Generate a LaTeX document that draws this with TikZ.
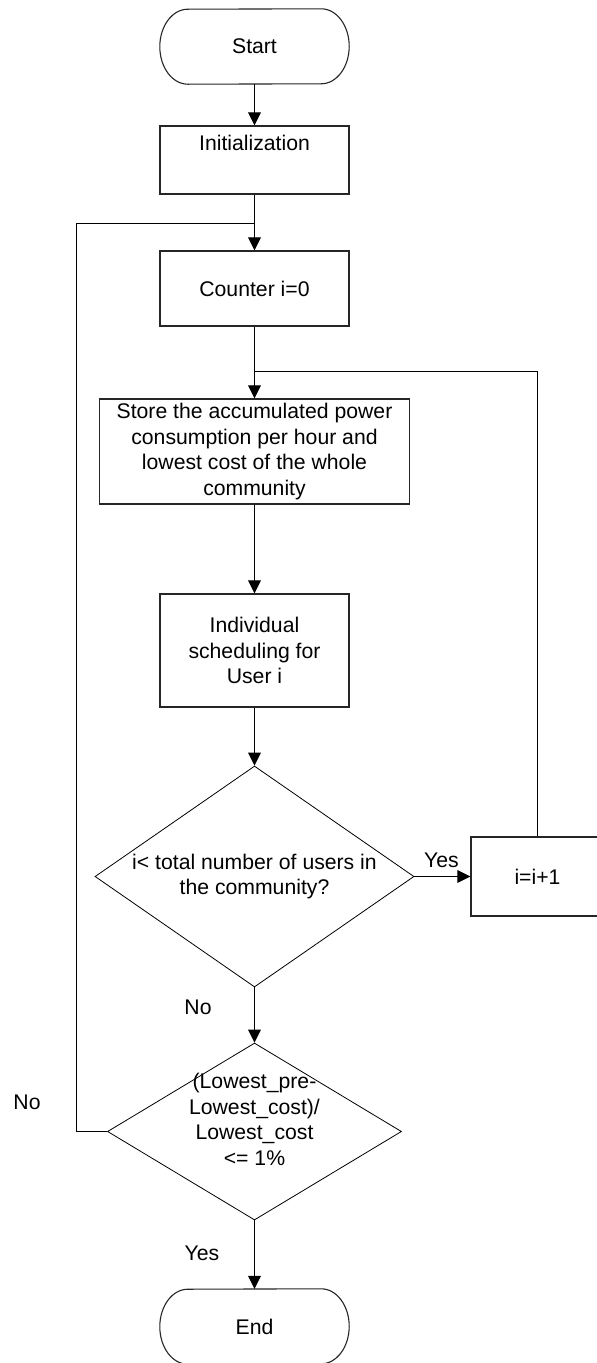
\documentclass[tikz,border=0pt]{standalone}
\usepackage{fontspec}
\setmainfont{Liberation Sans}
\usetikzlibrary{shapes.geometric,arrows.meta}
\begin{document}
\begin{tikzpicture}[x=1pt,y=-1pt,
  every node/.style={font=\fontsize{21.2}{25.7}\selectfont},
  procbox/.style={draw=black!85,line width=1.1pt,rectangle,inner sep=0pt,align=center},
  termbox/.style={rectangle,inner sep=0pt,minimum width=189pt,minimum height=75pt},
  termline/.style={draw=black!85,line width=1.1pt},
  decbox/.style={draw=black,line width=0.8pt,diamond,inner sep=0pt},
  lbl/.style={inner sep=0pt},
  conn/.style={draw=black,line width=1pt},
  arr/.style={conn,-{Triangle[length=13pt,width=12.7pt]}}
]
\clip (0,0) rectangle (597,1363);
\fill[white] (0,0) rectangle (597,1363);

% nodes
\node[termbox] (start) at (254.5,46.5) {Start};
\node[procbox,minimum width=189pt,minimum height=68pt] (init) at (254.5,160) {Initialization\\\strut};
\node[procbox,minimum width=189pt,minimum height=75pt] (counter) at (254.5,288.5) {Counter i=0};
\node[procbox,minimum width=310pt,minimum height=105pt] (store) at (254.5,451.5)
  {Store the accumulated power\\consumption per hour and\\lowest cost of the whole\\community};
\node[procbox,minimum width=189pt,minimum height=113pt] (indiv) at (254.5,650.5)
  {Individual\\scheduling for\\User i};
\node[decbox,minimum width=319pt,minimum height=221pt] (dec1) at (254.5,876.5) {};
\node[lbl,align=center] (dec1t) at (254.5,876.5) {i{<} total number of users in\\the community?};
\node[procbox,minimum width=133pt,minimum height=79pt] (inc) at (537.5,876.5) {i=i+1};
\node[decbox,minimum width=294pt,minimum height=177pt] (dec2) at (254.5,1131.5) {};
\node[lbl,align=center] (dec2t) at (254.5,1119.5) {(Lowest\_pre-\\Lowest\_cost)/\\Lowest\_cost\\{<}= 1\%};
\node[termbox] (end) at (254.5,1326.5) {End};

% terminal outlines
\draw[termline] ([xshift=-28pt]start.north east) arc[start angle=90,end angle=-90,x radius=28pt,y radius=37.5pt]
  -- ([xshift=28pt]start.south west) arc[start angle=270,end angle=90,x radius=28pt,y radius=37.5pt] -- cycle;
\draw[termline] ([xshift=-28pt]end.north east) arc[start angle=90,end angle=-90,x radius=28pt,y radius=37.5pt]
  -- ([xshift=28pt]end.south west) arc[start angle=270,end angle=90,x radius=28pt,y radius=37.5pt] -- cycle;

% junction coordinates
\coordinate (j1) at (254.5,223);
\coordinate (j2) at (254.5,371);
\coordinate (lc) at (76,223);

% connectors
\draw[arr] (start.south) -- (init.north);
\draw[arr] (init.south) -- (counter.north);
\draw[arr] (counter.south) -- (store.north);
\draw[arr] (store.south) -- (indiv.north);
\draw[arr] (indiv.south) -- (dec1.north);
\draw[arr] (dec1.east) -- (inc.west);
\draw[conn] (inc.north) |- (j2);
\draw[arr] (dec1.south) -- (dec2.north);
\draw[conn] (dec2.west) -| (lc) -- (j1);
\draw[arr] (dec2.south) -- (end.north);

% labels
\node[lbl] (yes1) at (441.5,860) {Yes};
\node[lbl] (no1) at (198,1007) {No};
\node[lbl] (no2) at (27,1102) {No};
\node[lbl] (yes2) at (202,1253) {Yes};
\end{tikzpicture}
\end{document}
